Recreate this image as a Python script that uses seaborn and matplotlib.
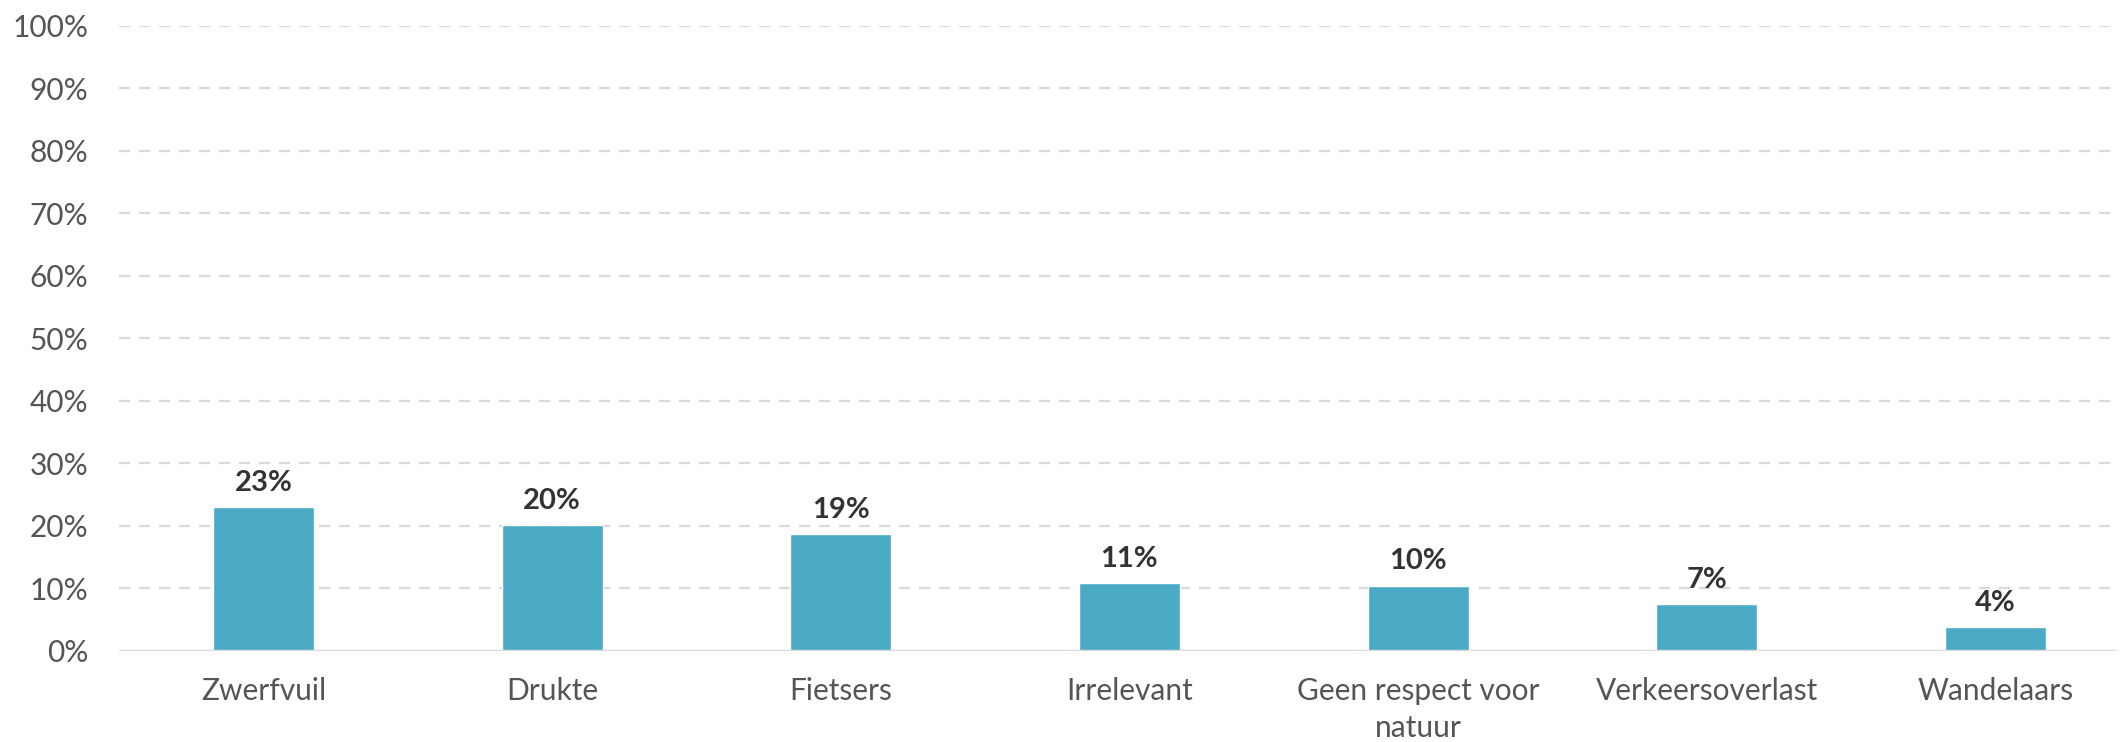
import matplotlib
matplotlib.use("Agg")
import matplotlib.pyplot as plt
import seaborn as sns
import pandas as pd

# ============================================================
# DATA
# ============================================================

categories = [
    "Zwerfvuil",
    "Drukte",
    "Fietsers",
    "Irrelevant",
    "Geen respect voor\nnatuur",
    "Verkeersoverlast",
    "Wandelaars",
]
values = [22.9, 20.1, 18.6, 10.8, 10.4, 7.4, 3.7]
value_labels = ["23%", "20%", "19%", "11%", "10%", "7%", "4%"]
y_ticks = [0, 10, 20, 30, 40, 50, 60, 70, 80, 90, 100]
y_tick_labels = [f"{t}%" for t in y_ticks]

BAR_COLOR = "#4BABC6"
TEXT_COLOR = "#555555"
GRID_COLOR = "#d9d9d9"

df = pd.DataFrame({"category": categories, "value": values})

sns.set_theme(style="white")
plt.rcParams["font.family"] = ["Lato", "DejaVu Sans"]

fig = plt.figure(figsize=(21.21, 7.42), dpi=100)
ax = fig.add_axes([0.0561, 0.1232, 0.9419, 0.8422])

sns.barplot(data=df, x="category", y="value", color=BAR_COLOR,
            width=0.35, saturation=1, ax=ax, zorder=3)

# bar value labels
for i, (v, lab) in enumerate(zip(values, value_labels)):
    ax.annotate(lab, (i, v), xytext=(0, 8), textcoords="offset points",
                ha="center", va="bottom", fontsize=21, fontweight="bold",
                color="#333333")

ax.set_ylim(0, 100)
ax.set_xlim(-0.5, 6.42)
ax.set_yticks(y_ticks)
ax.set_yticklabels(y_tick_labels)
ax.set_xlabel("")
ax.set_ylabel("")

# dashed gridlines (skip the baseline)
for t in y_ticks[1:]:
    ax.axhline(t, color=GRID_COLOR, lw=1.6, ls=(0, (5, 4)), zorder=1)
ax.axhline(0, color=GRID_COLOR, lw=2.5, zorder=4)

for s in ax.spines.values():
    s.set_visible(False)

ax.tick_params(axis="y", length=0, pad=22, labelsize=21.5, labelcolor=TEXT_COLOR)
ax.tick_params(axis="x", length=0, pad=19, labelsize=21.5, labelcolor=TEXT_COLOR)
for lbl in ax.get_xticklabels():
    lbl.set_linespacing(1.4)

fig.savefig("out.png", dpi=100)
